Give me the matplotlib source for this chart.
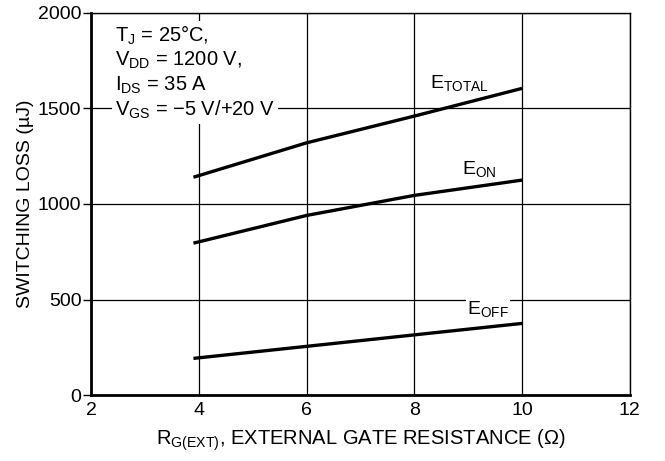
import matplotlib
matplotlib.use("Agg")
import matplotlib.pyplot as plt

plt.rcParams['font.family'] = ['Liberation Sans', 'DejaVu Sans']
plt.rcParams['mathtext.fontset'] = 'custom'
plt.rcParams['mathtext.rm'] = 'Liberation Sans'

# --- data ---
rg = [3.9, 6, 8, 10]
e_total = [1140, 1320, 1460, 1605]
e_on = [795, 940, 1045, 1125]
e_off = [192, 255, 315, 375]

x_ticks = [2, 4, 6, 8, 10, 12]
y_ticks = [0, 500, 1000, 1500, 2000]

fig = plt.figure(figsize=(6.65, 4.61), dpi=100)
ax = fig.add_axes([0.137, 0.143, 0.81, 0.829])

ax.set_xlim(2, 12)
ax.set_ylim(0, 2000)
ax.set_xticks(x_ticks)
ax.set_yticks(y_ticks)
ax.grid(True, color='black', linewidth=0.9)
ax.set_axisbelow(True)

for s in ['left', 'bottom']:
    ax.spines[s].set_linewidth(2)
for s in ['top', 'right']:
    ax.spines[s].set_linewidth(1)
ax.tick_params(axis='y', labelsize=14, length=6, width=1, direction='out', pad=1)
ax.tick_params(axis='x', labelsize=14, length=0, pad=5)

lw = 2.4
ax.plot(rg, e_total, color='black', linewidth=lw, solid_capstyle='butt')
ax.plot(rg, e_on, color='black', linewidth=lw, solid_capstyle='butt')
ax.plot(rg, e_off, color='black', linewidth=lw, solid_capstyle='butt')

box = dict(facecolor='white', edgecolor='none', pad=1)
ax.text(8.29, 1680, r'E$_\mathregular{TOTAL}$', fontsize=14, va='top')
ax.text(8.88, 1230, r'E$_\mathregular{ON}$', fontsize=14, va='top')
ax.text(8.98, 500, r'E$_\mathregular{OFF}$', fontsize=14, va='top', bbox=box)

cond = ('T$_\\mathregular{J}$ = 25°C,\n'
        'V$_\\mathregular{DD}$ = 1200 V,\n'
        'I$_\\mathregular{DS}$ = 35 A\n'
        'V$_\\mathregular{GS}$ = \u22125 V/+20 V')
ax.text(2.44, 1945, cond, fontsize=14.5, va='top', ha='left', linespacing=1.2,
        bbox=dict(facecolor='white', edgecolor='none', pad=2))

ax.set_xlabel(r'R$_\mathregular{G(EXT)}$, EXTERNAL GATE RESISTANCE ($\mathregular{\Omega}$)', fontsize=14.5, labelpad=6)
ax.set_ylabel('SWITCHING LOSS (\u00b5J)', fontsize=14, labelpad=3)

fig.savefig('out.png', dpi=100)
